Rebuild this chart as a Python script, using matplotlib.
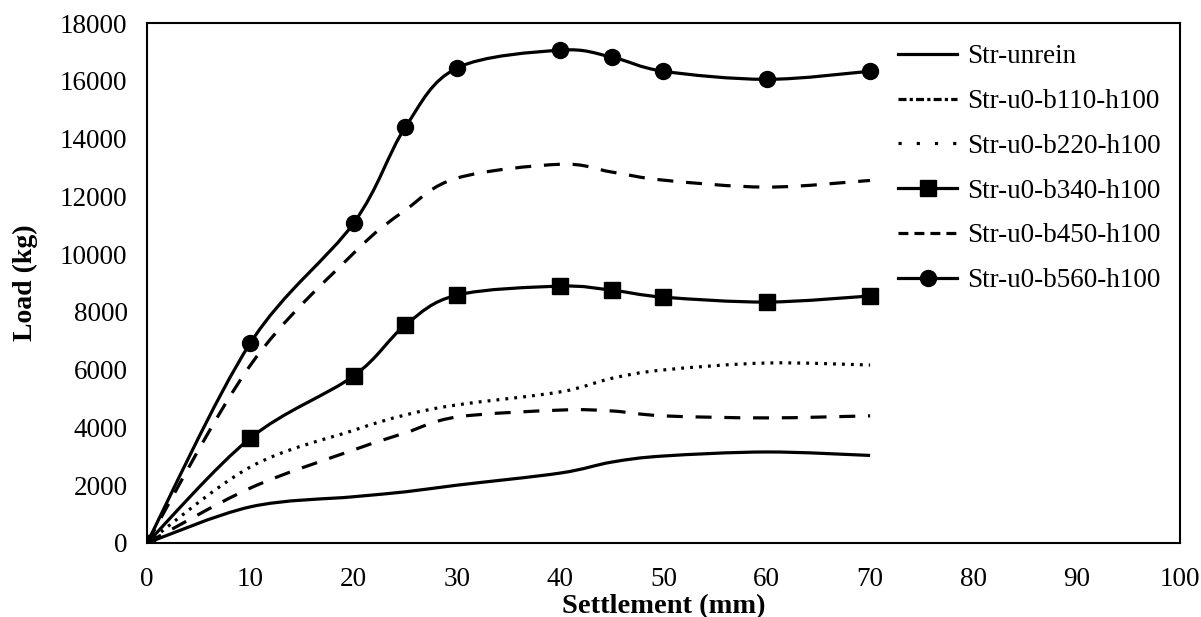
import matplotlib
matplotlib.use("Agg")
import matplotlib.pyplot as plt
from matplotlib.path import Path
from matplotlib.patches import PathPatch
from matplotlib.lines import Line2D

plt.rcParams['font.family'] = ['Liberation Serif', 'DejaVu Serif']

# settlement (mm)
settlement = [0, 10, 20, 25, 30, 40, 45, 50, 60, 70]

# load (kg)
unrein = [0, 1250, 1600, 1770, 2000, 2420, 2800, 3010, 3150, 3030]
b110 = [0, 1900, 3220, 3810, 4360, 4600, 4570, 4400, 4330, 4400]
b220 = [0, 2630, 3900, 4430, 4780, 5230, 5700, 5990, 6230, 6160]
b340 = [0, 3630, 5780, 7540, 8580, 8890, 8750, 8510, 8340, 8550]
b450 = [0, 6150, 10030, 11520, 12630, 13110, 12840, 12560, 12320, 12550]
b560 = [0, 6920, 11070, 14390, 16440, 17060, 16820, 16330, 16050, 16330]

labels = ['Str-unrein', 'Str-u0-b110-h100', 'Str-u0-b220-h100',
          'Str-u0-b340-h100', 'Str-u0-b450-h100', 'Str-u0-b560-h100']


def smooth_path(xs, ys):
    # Excel-like smoothed line: cubic bezier through every point
    pts = list(zip(xs, ys))
    n = len(pts)
    verts = [pts[0]]
    codes = [Path.MOVETO]
    for i in range(n - 1):
        p0 = pts[i - 1] if i > 0 else pts[i]
        p1 = pts[i]
        p2 = pts[i + 1]
        p3 = pts[i + 2] if i + 2 < n else pts[i + 1]
        c1 = (p1[0] + (p2[0] - p0[0]) / 6, p1[1] + (p2[1] - p0[1]) / 6)
        c2 = (p2[0] - (p3[0] - p1[0]) / 6, p2[1] - (p3[1] - p1[1]) / 6)
        verts += [c1, c2, p2]
        codes += [Path.CURVE4] * 3
    return Path(verts, codes)


fig = plt.figure(figsize=(12.01, 6.17), dpi=100)
ax = fig.add_axes([0.1224, 0.12, 0.8601, 0.8427])

lw = 2.3
fs = 19.5
series = [
    (unrein, '-', None, 2),
    (b110, (0, (5, 4)), None, 2),
    (b220, (0, (0.9, 1.9)), None, 2),
    (b340, '-', 's', 4),
    (b450, (0, (5, 4)), None, 2),
    (b560, '-', 'o', 3),
]

# legend line styles (a bit different from the drawn lines, as in the original)
legend_styles = {
    'Str-u0-b110-h100': (0, (2.5, 1, 1, 1)),
    'Str-u0-b220-h100': (0, (1, 4.7)),
    'Str-u0-b450-h100': (0, (3.1, 1.9)),
}

handles = []
for (ys, ls, mk, z), lab in zip(series, labels):
    patch = PathPatch(smooth_path(settlement, ys), fill=False, edgecolor='black',
                      lw=lw, linestyle=ls, zorder=z, capstyle='butt')
    ax.add_patch(patch)
    if mk is not None:
        ax.plot(settlement, ys, linestyle='none', marker=mk, color='black',
                markersize=11.5, zorder=z + 1)
    handles.append(Line2D([], [], color='black', lw=lw,
                          linestyle=legend_styles.get(lab, ls),
                          marker=mk, markersize=11.5))

ax.set_xlim(0, 100)
ax.set_ylim(0, 18000)
ax.set_xticks(range(0, 101, 10))
ax.set_yticks(range(0, 18001, 2000))
ax.tick_params(length=0, labelsize=fs)
ax.tick_params(axis='x', pad=17)
ax.tick_params(axis='y', pad=14)
for s in ax.spines.values():
    s.set_linewidth(1.5)

ax.set_xlabel('Settlement (mm)', fontsize=20.5, fontweight='bold', labelpad=2)
ax.set_ylabel('Load (kg)', fontsize=20, fontweight='bold', labelpad=16)

ax.legend(handles, labels, loc='upper left', bbox_to_anchor=(0.717, 0.98),
          frameon=False, fontsize=fs, handlelength=2.15, handletextpad=0.37,
          labelspacing=0.73, borderaxespad=0)

fig.savefig('out.png', dpi=100)
